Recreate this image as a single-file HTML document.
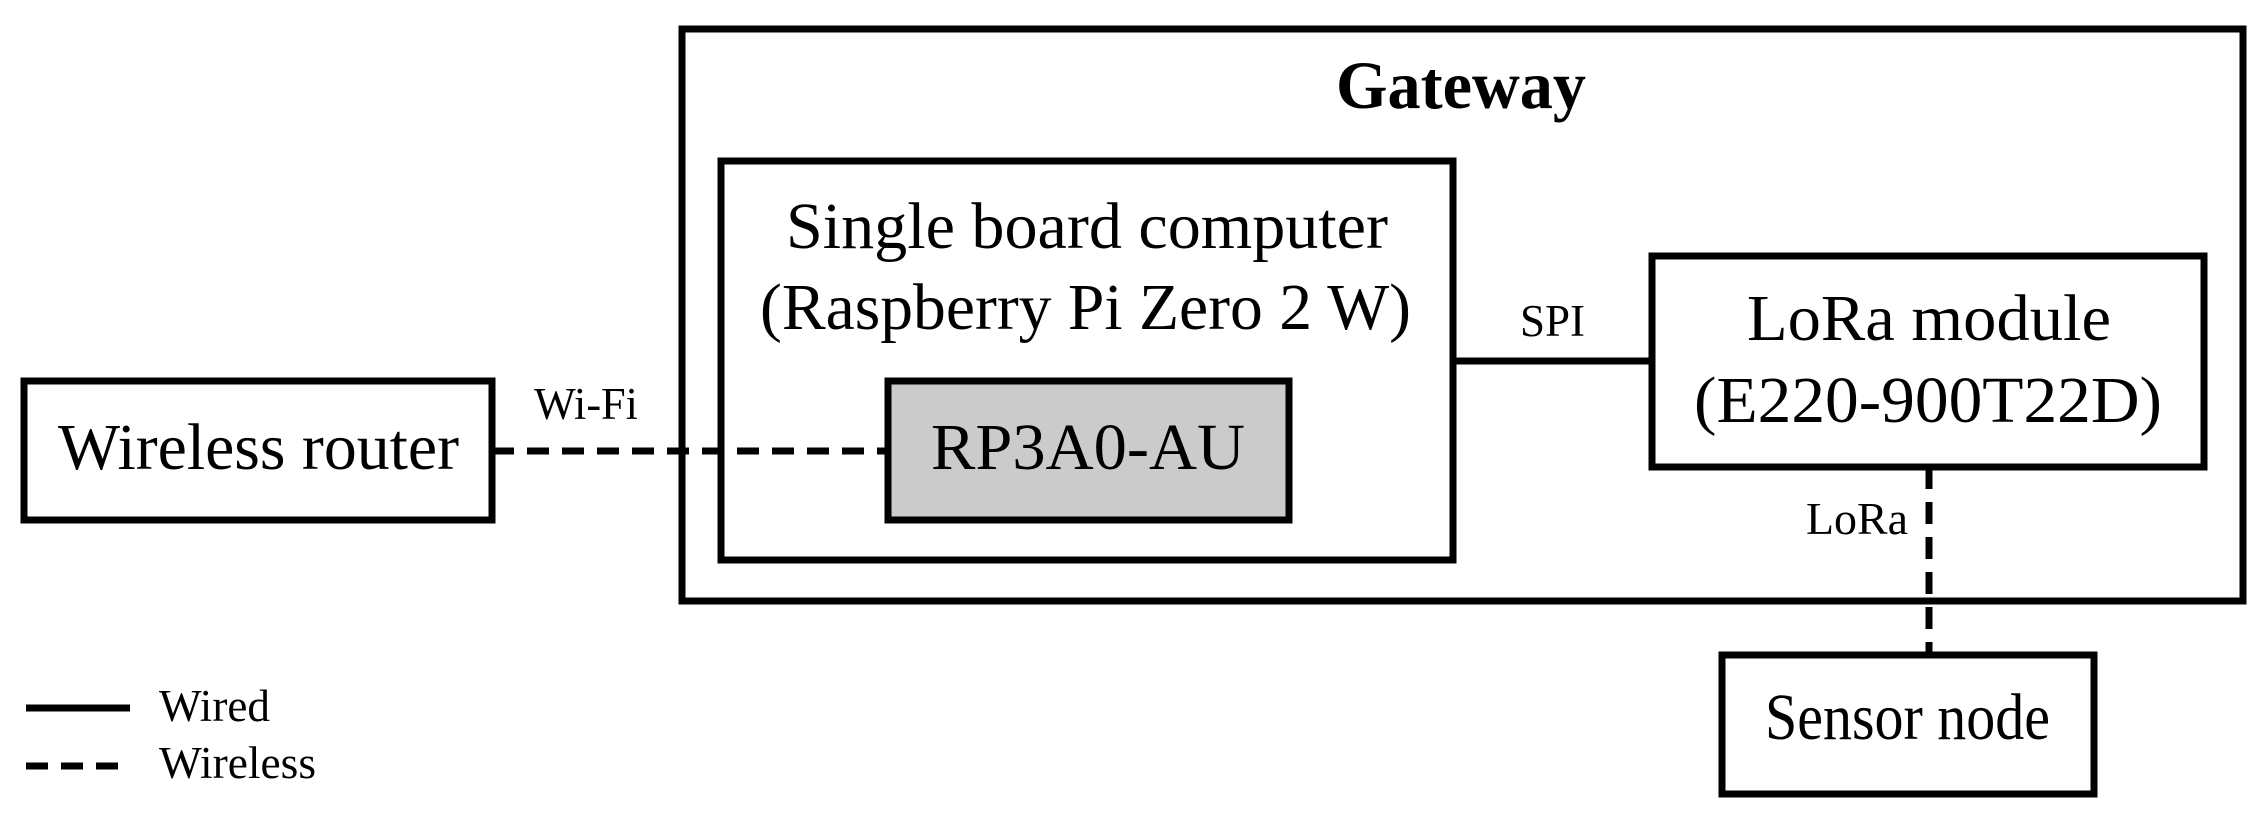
<!DOCTYPE html>
<html><head><meta charset="utf-8"><style>html,body{margin:0;padding:0;background:#fff}svg{display:block}</style></head>
<body>
<svg width="2264" height="818" viewBox="0 0 2264 818" xmlns="http://www.w3.org/2000/svg" font-family="Liberation Serif, serif" fill="#000">
<g fill="none" stroke="#000" stroke-width="7">
<rect x="682" y="29" width="1561" height="572"/>
<rect x="721" y="161" width="732" height="399"/>
<rect x="888" y="381" width="401" height="139" fill="#cbcbcb"/>
<rect x="24" y="381" width="468" height="139"/>
<rect x="1652" y="256" width="552" height="211"/>
<rect x="1722" y="655" width="372" height="139"/>
<line x1="1453" y1="361" x2="1652" y2="361"/>
<line x1="492" y1="451" x2="888" y2="451" stroke-dasharray="22,13"/>
<line x1="1929" y1="467" x2="1929" y2="655" stroke-dasharray="22,13"/>
<line x1="26" y1="708" x2="130" y2="708"/>
<line x1="26" y1="766" x2="130" y2="766" stroke-dasharray="22,13"/>
</g>
<text x="1336" y="108" font-size="68" font-weight="bold" textLength="250" lengthAdjust="spacingAndGlyphs">Gateway</text>
<text x="786" y="248" font-size="66" textLength="602" lengthAdjust="spacingAndGlyphs">Single board computer</text>
<text x="760" y="329" font-size="66" textLength="651" lengthAdjust="spacingAndGlyphs">(Raspberry Pi Zero 2 W)</text>
<text x="931" y="469" font-size="66" textLength="314" lengthAdjust="spacingAndGlyphs">RP3A0-AU</text>
<text x="58" y="469" font-size="66" textLength="401" lengthAdjust="spacingAndGlyphs">Wireless router</text>
<text x="534" y="419" font-size="45" textLength="104" lengthAdjust="spacingAndGlyphs">Wi-Fi</text>
<text x="1520" y="336" font-size="45" textLength="65" lengthAdjust="spacingAndGlyphs">SPI</text>
<text x="1747" y="340" font-size="66" textLength="364" lengthAdjust="spacingAndGlyphs">LoRa module</text>
<text x="1694" y="422" font-size="66" textLength="468" lengthAdjust="spacingAndGlyphs">(E220-900T22D)</text>
<text x="1806" y="534" font-size="45" textLength="102" lengthAdjust="spacingAndGlyphs">LoRa</text>
<text x="1765" y="739" font-size="66" textLength="285" lengthAdjust="spacingAndGlyphs">Sensor node</text>
<text x="159" y="721" font-size="45" textLength="111" lengthAdjust="spacingAndGlyphs">Wired</text>
<text x="159" y="778" font-size="45" textLength="157" lengthAdjust="spacingAndGlyphs">Wireless</text>
</svg>
</body></html>
